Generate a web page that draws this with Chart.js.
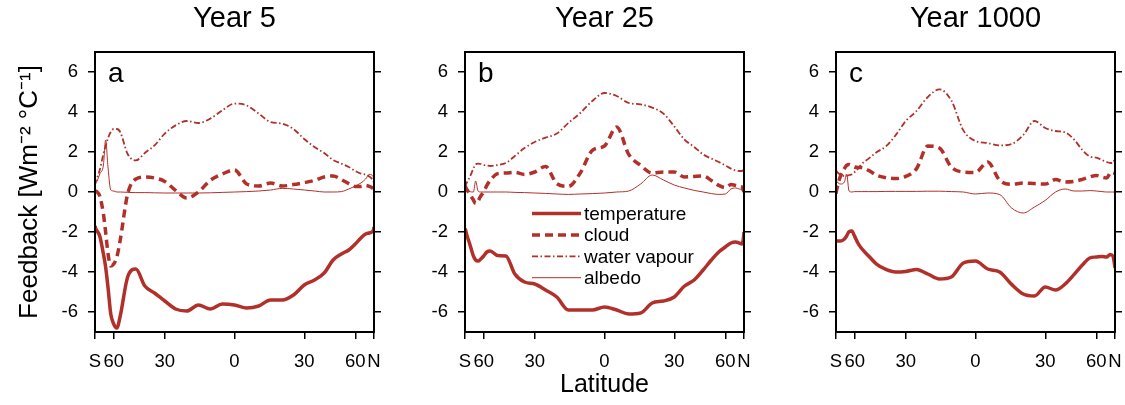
<!DOCTYPE html>
<html>
<head>
<meta charset="utf-8">
<script src="https://cdn.jsdelivr.net/npm/chart.js@4.4.1/dist/chart.umd.min.js"></script>
<style>
  html, body { margin: 0; padding: 0; background: #fff; }
  #wrap { position: relative; width: 1125px; height: 405px; overflow: hidden; }
  canvas { position: absolute; top: 0; }
</style>
</head>
<body>
<div id="wrap">
  <canvas id="panelA" width="394" height="405" style="left:0px"></canvas>
  <canvas id="panelB" width="374" height="405" style="left:390px"></canvas>
  <canvas id="panelC" width="375" height="405" style="left:760px"></canvas>
</div>
<script>
// latitude grid (deg), extra points around the Southern Ocean
const LAT = [-90, -85, -80, -75, -70, -67.5, -65, -62.5, -60, -57.5, -55, -50, -45, -40, -35, -30, -25, -20, -15, -10,
  -5, 0, 5, 10, 15, 20, 25, 30, 35, 40, 45, 50, 55, 60, 65, 70, 75, 80, 85, 90];

const YEARS = ['Year 5', 'Year 25', 'Year 1000'];
const LETTERS = ['a', 'b', 'c'];
const SERIES = ['temperature', 'cloud', 'water vapour', 'albedo'];

const X_TICKS = [-90, -60, -30, 0, 30, 60, 90];
const X_LABELS = ['S', '60', '30', '0', '30', '60', 'N'];
const Y_TICKS = [-6, -4, -2, 0, 2, 4, 6];

// feedbacks, W m-2 C-1
const temperature5 = [-1.7, -1.8, -1.95, -2.2, -3.1, -3.75, -4.8, -6.1, -6.6, -6.8, -6.2, -4.25, -3.85, -4.7, -5.05, -5.45, -5.85, -5.95, -5.65, -5.85,
  -5.6, -5.65, -5.8, -5.7, -5.4, -5.4, -5.15, -4.65, -4.4, -4.05, -3.4, -3.1, -2.9, -2.6, -2.3, -2.1, -2.05, -2.0, -1.9, -1.75];
const cloud5 = [0.08, 0.05, 0.0, -0.2, -1.1, -2.0, -3.1, -3.7, -3.6, -3.25, -2.4, -0.1, 0.65, 0.75, 0.7, 0.53, 0.08, -0.3, 0.0, 0.58,
  0.9, 1.1, 0.4, 0.3, 0.45, 0.3, 0.37, 0.47, 0.58, 0.75, 0.8, 0.62, 0.42, 0.28, 0.28, 0.33, 0.28, 0.22, 0.12, 0.0];
const vapour5 = [0.33, 0.5, 0.7, 1.1, 1.9, 2.3, 2.7, 3.0, 3.15, 3.15, 3.0, 1.9, 1.58, 1.95, 2.33, 2.92, 3.33, 3.55, 3.45, 3.67,
  4.08, 4.42, 4.33, 3.92, 3.5, 3.42, 3.15, 2.65, 2.25, 1.95, 1.6, 1.42, 1.25, 1.05, 0.92, 0.87, 0.78, 0.67, 0.55, 0.42];
const albedo5 = [0.25, 0.4, 0.55, 0.9, 1.35, 2.6, 1.2, 0.1, 0.05, 0.0, 0.0, -0.02, -0.03, -0.03, -0.04, -0.05, -0.05, -0.05, -0.05, -0.04,
  -0.02, 0.0, 0.02, 0.05, 0.1, 0.18, 0.15, 0.1, 0.05, 0.0, 0.0, 0.02, 0.15, 0.3, 0.45, 0.65, 0.88, 0.85, 0.7, 0.5];

const temperature25 = [-1.83, -1.9, -2.2, -2.6, -3.2, -3.4, -3.45, -3.35, -3.2, -3.0, -2.95, -3.18, -3.2, -4.1, -4.5, -4.6, -4.9, -5.25, -5.9, -5.9,
  -5.9, -5.75, -5.9, -6.1, -6.05, -5.55, -5.45, -5.25, -4.7, -4.4, -3.9, -3.4, -3.0, -2.75, -2.55, -2.5, -2.55, -2.6, -2.3, -2.0];
const cloud25 = [0.33, 0.25, 0.1, -0.1, -0.4, -0.58, -0.45, -0.2, 0.0, 0.33, 0.58, 0.92, 0.95, 0.98, 0.88, 1.0, 1.28, 0.42, 0.28, 0.95,
  2.08, 2.3, 3.25, 1.88, 1.33, 0.95, 1.0, 1.0, 0.75, 0.78, 0.8, 0.58, 0.33, 0.22, 0.37, 0.33, 0.28, 0.25, 0.08, 0.0];
const vapour25 = [0.25, 0.35, 0.5, 0.75, 1.17, 1.38, 1.42, 1.4, 1.35, 1.33, 1.3, 1.35, 1.45, 1.8, 2.2, 2.5, 2.72, 2.92, 3.45, 3.95,
  4.55, 4.95, 4.8, 4.45, 4.38, 4.22, 3.92, 3.28, 2.62, 2.25, 1.88, 1.67, 1.5, 1.33, 1.17, 1.08, 1.05, 1.05, 1.08, 1.1];
const albedo25 = [0.3, 0.25, 0.15, 0.02, 0.0, 0.55, 0.05, 0.0, 0.0, 0.0, 0.0, 0.0, 0.0, -0.02, -0.03, -0.05, -0.07, -0.1, -0.12, -0.1,
  -0.08, -0.05, 0.0, 0.05, 0.4, 0.85, 0.6, 0.35, 0.2, 0.08, 0.0, -0.08, -0.12, -0.1, 0.15, 0.2, 0.15, 0.1, 0.0, -0.05];

const temperature1000 = [-2.4, -2.45, -2.45, -2.45, -2.35, -2.2, -1.98, -1.95, -2.22, -2.55, -2.8, -3.2, -3.62, -3.87, -4.0, -3.97, -3.87, -4.1, -4.35, -4.25,
  -3.55, -3.45, -3.85, -4.0, -4.62, -5.1, -5.2, -4.75, -4.9, -4.6, -4.12, -3.65, -3.3, -3.25, -3.22, -3.25, -3.12, -3.2, -3.6, -3.8];
const cloud1000 = [-0.08, 0.08, 0.42, 0.83, 1.17, 1.33, 1.38, 1.33, 1.25, 1.22, 1.22, 1.08, 0.83, 0.72, 0.67, 0.78, 1.17, 2.3, 2.2, 1.25,
  1.0, 0.98, 1.5, 0.58, 0.38, 0.45, 0.42, 0.4, 0.62, 0.5, 0.53, 0.63, 0.75, 0.83, 0.75, 0.7, 0.95, 1.0, 0.95, 0.88];
const vapour1000 = [1.08, 1.05, 0.95, 0.88, 0.8, 0.8, 0.85, 0.88, 1.0, 1.15, 1.38, 1.67, 2.0, 2.28, 2.83, 3.55, 4.05, 4.75, 5.13, 4.58,
  3.08, 2.55, 2.45, 2.33, 2.4, 2.85, 3.55, 3.2, 3.05, 2.98, 2.62, 2.1, 1.78, 1.72, 1.6, 1.5, 1.45, 1.45, 1.65, 1.75];
const albedo1000 = [0.6, 0.55, 0.45, 0.4, 0.5, 0.9, 0.05, 0.0, 0.02, 0.02, 0.02, 0.02, 0.02, 0.03, 0.03, 0.03, 0.03, 0.04, 0.04, 0.02,
  0.0, -0.1, -0.05, -0.13, -0.8, -1.05, -0.75, -0.42, 0.0, 0.15, 0.05, 0.05, 0.07, 0.05, 0.02, 0.0, 0.0, 0.0, 0.0, 0.0];

const PANELS = [
  [temperature5, cloud5, vapour5, albedo5],
  [temperature25, cloud25, vapour25, albedo25],
  [temperature1000, cloud1000, vapour1000, albedo1000],
];

const RED = '#b2302a';
const FONT = "'Liberation Sans', Arial, Helvetica, sans-serif";
Chart.defaults.font.family = FONT;
Chart.defaults.color = '#000';

const lineStyles = [
  { borderWidth: 3.5, borderDash: [] },
  { borderWidth: 3.5, borderDash: [8, 5] },
  { borderWidth: 1.8, borderDash: [6, 2.5, 1.5, 2.5] },
  { borderWidth: 1, borderDash: [] },
];

// x axis is area-weighted: sine of latitude
const sinLat = (d) => Math.sin(d * Math.PI / 180);

// panel frame
const frame = {
  id: 'frame',
  afterDraw(chart) {
    const { ctx, chartArea: a } = chart;
    ctx.save();
    ctx.strokeStyle = '#000';
    ctx.lineWidth = 2;
    ctx.strokeRect(a.left, a.top, a.right - a.left, a.bottom - a.top);
    ctx.restore();
  },
};

// panel letter in the top-left corner
const panelLetter = {
  id: 'panelLetter',
  afterDraw(chart, args, opts) {
    const { ctx, chartArea: a } = chart;
    ctx.save();
    ctx.font = '28px ' + FONT;
    ctx.fillStyle = '#000';
    ctx.textBaseline = 'alphabetic';
    ctx.fillText(opts.text, a.left + 13, a.top + 30);
    ctx.restore();
  },
};

// line legend drawn inside the middle panel
const innerLegend = {
  id: 'innerLegend',
  afterDraw(chart, args, opts) {
    if (!opts.show) return;
    const { ctx, chartArea: a } = chart;
    const x0 = a.left + 67, x1 = a.left + 116;
    ctx.save();
    ctx.font = '19px ' + FONT;
    ctx.textBaseline = 'middle';
    chart.data.datasets.forEach((ds, i) => {
      const y = a.top + 161.5 + i * 21.4;
      ctx.strokeStyle = ds.borderColor;
      ctx.lineWidth = ds.borderWidth;
      ctx.setLineDash(ds.borderDash);
      ctx.beginPath();
      ctx.moveTo(x0, y);
      ctx.lineTo(x1, y);
      ctx.stroke();
      ctx.setLineDash([]);
      ctx.fillStyle = '#000';
      ctx.fillText(ds.label, x1 + 3, y + 1);
    });
    ctx.restore();
  },
};

const tickGrid = { display: true, drawOnChartArea: false, drawTicks: true, tickLength: 7, color: '#000', lineWidth: 1.5 };
const tickFont = { size: 18.5 };

// left axis width, right axis width per panel so the plot boxes line up
// (right side must also hold half of the "N" label plus its padding)
const layoutSizes = [[95, 20], [75, 20], [76, 20]];
const canvases = ['panelA', 'panelB', 'panelC'];

PANELS.forEach((series, p) => {
  const datasets = series.map((vals, s) => ({
    label: SERIES[s],
    data: LAT.map((d, i) => ({ x: sinLat(d), y: vals[i] })),
    borderColor: RED,
    backgroundColor: RED,
    borderWidth: lineStyles[s].borderWidth,
    borderDash: lineStyles[s].borderDash,
    pointRadius: 0,
    cubicInterpolationMode: 'monotone',
    fill: false,
  }));

  new Chart(document.getElementById(canvases[p]).getContext('2d'), {
    type: 'line',
    data: { datasets },
    options: {
      responsive: false,
      animation: false,
      layout: { padding: 0 },
      plugins: {
        legend: { display: false },
        tooltip: { enabled: false },
        title: {
          display: true,
          fullSize: false,
          text: YEARS[p],
          font: { size: 29, weight: 'normal', lineHeight: 1 },
          color: '#000',
          padding: { top: 4, bottom: 19 },
        },
        panelLetter: { text: LETTERS[p] },
        innerLegend: { show: p === 1 },
      },
      scales: {
        x: {
          type: 'linear',
          min: -1,
          max: 1,
          afterBuildTicks: (sc) => { sc.ticks = X_TICKS.map((d) => ({ value: sinLat(d) })); },
          afterFit: (sc) => { sc.height = 73; },
          ticks: { autoSkip: false, maxRotation: 0, padding: 12, font: tickFont, color: '#000',
            callback: (v, i) => X_LABELS[i] },
          grid: tickGrid,
          border: { display: false },
          title: {
            display: p === 1,
            text: 'Latitude',
            font: { size: 25 },
            color: '#000',
            padding: { top: 0, bottom: 5 },
          },
        },
        y: {
          type: 'linear',
          position: 'left',
          min: -7,
          max: 7,
          afterBuildTicks: (sc) => { sc.ticks = Y_TICKS.map((v) => ({ value: v })); },
          afterFit: (sc) => { sc.width = layoutSizes[p][0]; },
          ticks: { padding: 10, font: tickFont, color: '#000' },
          grid: tickGrid,
          border: { display: false },
          title: {
            display: p === 0,
            text: 'Feedback [Wm\u207B\u00B2 \u00B0C\u207B\u00B9]',
            font: { size: 26 },
            color: '#000',
            padding: { top: 14, bottom: 0 },
          },
        },
        y2: {
          type: 'linear',
          position: 'right',
          min: -7,
          max: 7,
          afterBuildTicks: (sc) => { sc.ticks = Y_TICKS.map((v) => ({ value: v })); },
          afterFit: (sc) => { sc.width = layoutSizes[p][1]; },
          ticks: { display: false },
          grid: tickGrid,
          border: { display: false },
        },
      },
    },
    plugins: [frame, panelLetter, innerLegend],
  });
});
</script>
</body>
</html>
